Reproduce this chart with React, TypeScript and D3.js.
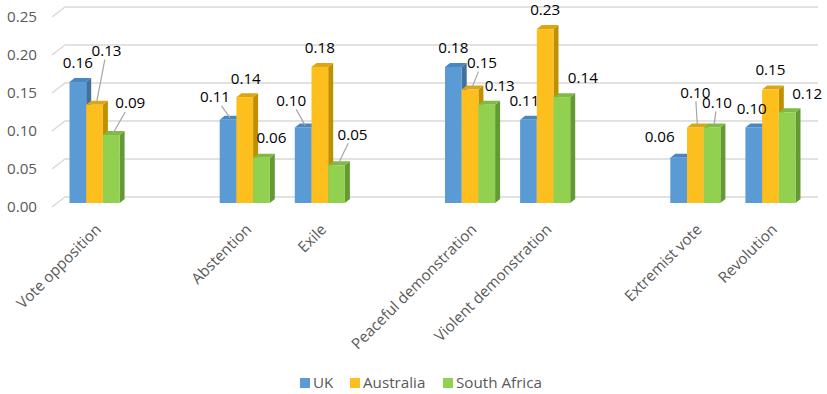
import * as d3 from "d3";

// ---- data ----
const categories = ["Vote opposition", "", "Abstention", "Exile", "", "Peaceful demonstration", "Violent demonstration", "", "Extremist vote", "Revolution"];
const seriesNames = ["UK", "Australia", "South Africa"];
const ukValues = [0.16, null, 0.11, 0.10, null, 0.18, 0.11, null, 0.06, 0.10];
const australiaValues = [0.13, null, 0.14, 0.18, null, 0.15, 0.23, null, 0.10, 0.15];
const southAfricaValues = [0.09, null, 0.06, 0.05, null, 0.13, 0.14, null, 0.10, 0.12];
const yTicks = [0, 0.05, 0.1, 0.15, 0.2, 0.25];

// label nudges (px) the way Excel moved them, and which ones got leader lines
const labelNudge = [
  [[0, 0], null, [-13, -4], [-12, -8], null, [0, 0], [-4, 0], null, [-19, -2], [-2, 0]],
  [[12, -35], null, [1, 1], [0, 0], null, [12, -8], [0, 0], null, [0, -16], [0, -1]],
  [[19, -13], null, [10, -1], [16, -12], null, [13, 0], [21, 0], null, [5, -6], [20, 0]],
];
const leaders = [
  [false, false, true, true, false, false, false, false, false, false],
  [true, false, false, false, false, true, false, false, true, false],
  [true, false, false, true, false, false, false, false, true, false],
];

const allValues = [ukValues, australiaValues, southAfricaValues];
const fronts = ["#5b9bd5", "#fdbf1d", "#92d050"];
const sides = ["#41719c", "#bf9000", "#639a33"];
const tops = ["#4a86c2", "#dca514", "#7fbb43"];

const W = 827;
const H = 394;
const font = "'Open Sans', 'Liberation Sans', sans-serif";
const fs = 15.2;

export default function App() {
  // 3D: front plane, bar plane and back wall
  const yFront = d3.scaleLinear().domain([0, 0.25]).range([207, 17]);
  const yBack = d3.scaleLinear().domain([0, 0.25]).range([197, 7]);
  const yBar = d3.scaleLinear().domain([0, 0.25]).range([203, 14]);
  const x = d3.scaleBand<number>().domain(categories.map((_, i) => i)).range([57, 808]);
  const inner = d3.scaleBand<number>().domain([0, 1, 2]).range([12.5, x.bandwidth() - 12.5]);
  const bw = inner.bandwidth();
  const dx = 5, dy = -4;
  const base = yBar(0);

  const bars: JSX.Element[] = [];
  const labels: JSX.Element[] = [];
  categories.forEach((_, i) => {
    allValues.forEach((vals, j) => {
      const v = vals[i];
      if (v == null) return;
      const bx = x(i)! + inner(j)!;
      const top = yBar(v);
      bars.push(
        <g key={`b${i}-${j}`}>
          <polygon points={`${bx + bw},${top} ${bx + bw + dx},${top + dy} ${bx + bw + dx},${base + dy} ${bx + bw},${base}`} fill={sides[j]} />
          <polygon points={`${bx},${top} ${bx + dx},${top + dy} ${bx + bw + dx},${top + dy} ${bx + bw},${top}`} fill={tops[j]} />
          <rect x={bx} y={top} width={bw} height={base - top} fill={fronts[j]} />
        </g>
      );
      const nudge = labelNudge[j][i] || [0, 0];
      const cx = bx + bw / 2;
      const lx = cx + nudge[0];
      const ly = top - 19 + nudge[1];
      if (leaders[j][i]) {
        const ex = cx + 2, ey = top - 2;
        const ddx = ex - lx, ddy = ey - ly;
        const t = Math.min(15 / Math.abs(ddx || 1e-6), 9 / Math.abs(ddy || 1e-6));
        labels.push(
          <line key={`l${i}-${j}`} x1={lx + ddx * t} y1={ly + ddy * t} x2={ex} y2={ey} stroke="#a6a6a6" strokeWidth={1.2} />
        );
      }
      labels.push(
        <text key={`t${i}-${j}`} x={lx} y={ly} dy="0.35em" textAnchor="middle" fontSize={fs} fill="#000">
          {d3.format(".2f")(v)}
        </text>
      );
    });
  });

  const legendX = [300, 350, 443];

  return (
    <>
      <style>{`body{margin:0}`}</style>
      <svg width={W} height={H} style={{ display: "block", fontFamily: font }}>
        <rect width={W} height={H} fill="#fff" />
        {/* gridlines on side + back wall */}
        {yTicks.map((t) => (
          <polyline
            key={`g${t}`}
            points={`52,${yFront(t)} 65,${yBack(t)} 818,${yBack(t)}`}
            fill="none"
            stroke="#d9d9d9"
            strokeWidth={1.5}
          />
        ))}
        {yTicks.map((t) => (
          <text key={`y${t}`} x={37} y={yFront(t)} dy="0.35em" textAnchor="end" fontSize={fs} fill="#595959">
            {d3.format(".2f")(t)}
          </text>
        ))}
        {bars}
        {labels}
        {categories.map((c, i) =>
          c ? (
            <text
              key={`x${i}`}
              transform={`translate(${x(i)! + x.bandwidth() / 2},223) rotate(-45)`}
              dy="0.7em"
              textAnchor="end"
              fontSize={fs}
              fill="#595959"
            >
              {c}
            </text>
          ) : null
        )}
        {seriesNames.map((s, j) => (
          <g key={s} transform={`translate(${legendX[j]},378)`}>
            <rect width={10} height={10} fill={fronts[j]} />
            <text x={13} y={5} dy="0.35em" fontSize={fs} fill="#595959">
              {s}
            </text>
          </g>
        ))}
      </svg>
    </>
  );
}
